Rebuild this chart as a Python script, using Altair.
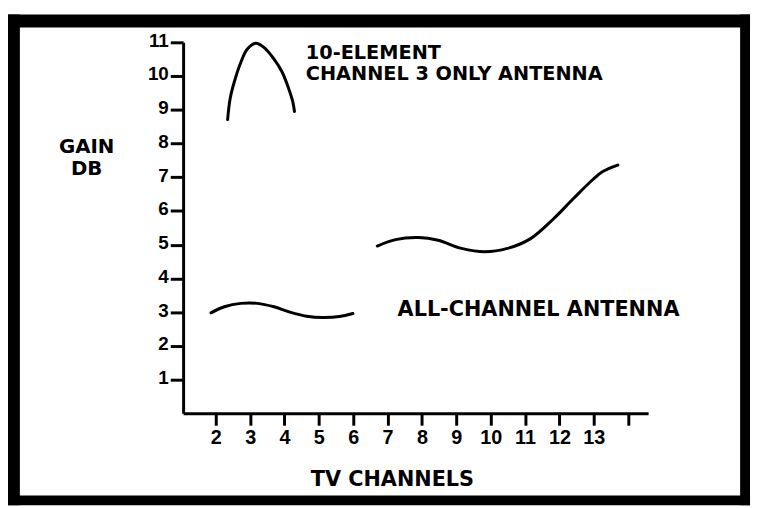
import altair as alt
import pandas as pd

# ---- data ----
ch3_x = [2.345, 2.42, 2.54, 2.73, 2.92, 3.16, 3.40, 3.69, 3.93, 4.12, 4.24, 4.29]
ch3_y = [8.71, 9.34, 9.83, 10.41, 10.80, 10.97, 10.85, 10.51, 10.12, 9.63, 9.24, 8.95]

low_x = [1.86, 2.25, 2.73, 3.21, 3.69, 4.16, 4.64, 5.12, 5.60, 5.99]
low_y = [2.98, 3.16, 3.26, 3.26, 3.16, 3.00, 2.88, 2.84, 2.87, 2.96]

high_x = [6.70, 7.23, 7.90, 8.47, 9.15, 9.82, 10.49, 11.16, 11.83, 12.40, 12.98, 13.26, 13.70]
high_y = [4.96, 5.15, 5.21, 5.13, 4.89, 4.79, 4.89, 5.18, 5.77, 6.36, 6.94, 7.17, 7.36]

x_ticks = list(range(2, 15))
y_ticks = list(range(1, 12))

top_text = ["10-ELEMENT", "CHANNEL 3 ONLY ANTENNA"]
top_x = [4.62, 4.62]
top_y = [10.52, 9.89]

mid_text = ["ALL-CHANNEL ANTENNA"]
mid_x = [7.29]
mid_y = [2.88]

x_title = "TV CHANNELS"
y_title = ["GAIN", "DB"]

# ---- tables ----
rows = []
for name, xs, ys in [("ch3", ch3_x, ch3_y), ("low", low_x, low_y), ("high", high_x, high_y)]:
    for i, (xv, yv) in enumerate(zip(xs, ys)):
        rows.append({"series": name, "i": i, "x": xv, "y": yv})
curves = pd.DataFrame(rows)
top_labels = pd.DataFrame({"text": top_text, "x": top_x, "y": top_y})
mid_labels = pd.DataFrame({"text": mid_text, "x": mid_x, "y": mid_y})

x_scale = alt.Scale(domain=[1.05, 14.58], nice=False, zero=False)
y_scale = alt.Scale(domain=[0, 11], nice=False, zero=False)

TICK_FONT = "Liberation Sans"
TEXT_FONT = "DejaVu Sans"

x_axis = alt.Axis(
    values=x_ticks, grid=False, tickSize=12, tickWidth=3, tickColor="black",
    domainColor="black", domainWidth=3, labelFont=TICK_FONT, labelFontWeight="bold",
    labelFontSize=20, labelColor="black", labelPadding=3, labelFlush=False,
    labelOverlap=False, labelExpr="datum.value == 14 ? '' : datum.label",
    title=x_title, titleFont=TEXT_FONT, titleFontWeight="bold", titleFontSize=21,
    titleColor="black", titleX=211, titleY=73, titleAlign="center",
    titleBaseline="alphabetic",
)
y_axis = alt.Axis(
    values=y_ticks, grid=False, tickSize=13, tickWidth=3, tickColor="black",
    domainColor="black", domainWidth=3, labelFont=TICK_FONT, labelFontWeight="bold",
    labelFontSize=19, labelColor="black", labelPadding=2, labelBaseline="middle",
    labelOffset=-2, labelFlush=False, labelOverlap=False,
    title=y_title, titleAngle=0, titleX=-98, titleY=111, titleAlign="center",
    titleBaseline="alphabetic", titleFont=TEXT_FONT, titleFontWeight="bold",
    titleFontSize=20, titleLineHeight=23, titleColor="black",
)

lines = alt.Chart(curves).mark_line(
    color="black", strokeWidth=3, interpolate="catmull-rom", strokeCap="round"
).encode(
    x=alt.X("x:Q", scale=x_scale, axis=x_axis),
    y=alt.Y("y:Q", scale=y_scale, axis=y_axis),
    detail="series:N",
    order="i:Q",
)

def text_layer(df, size):
    return alt.Chart(df).mark_text(
        align="left", baseline="alphabetic", font=TEXT_FONT, fontWeight="bold",
        fontSize=size, color="black"
    ).encode(
        x=alt.X("x:Q", scale=x_scale, axis=x_axis),
        y=alt.Y("y:Q", scale=y_scale, axis=y_axis),
        text="text:N",
    )

texts_top = text_layer(top_labels, 19.5)
texts_mid = text_layer(mid_labels, 21)

one = alt.Data(values=[{"k": 1}])
def side(x1, x2, y1, y2):
    return alt.Chart(one).mark_rect(color="black").encode(
        x=alt.value(x1), x2=alt.value(x2), y=alt.value(y1), y2=alt.value(y2)
    )

frame = (
    side(-177, -165, -28, 468)
    + side(-177, 573, -28, -15)
    + side(563, 573, -28, 468)
    + side(-177, 573, 458, 468)
)

chart = alt.layer(lines, texts_top, texts_mid, frame).properties(
    width=470, height=375,
    padding={"left": 177, "top": 32, "right": 105, "bottom": 93},
    autosize=alt.AutoSizeParams(type="none"),
    background="white",
).configure_view(stroke=None)

chart.save("out.html", embed_options={"renderer": "svg", "actions": False})
